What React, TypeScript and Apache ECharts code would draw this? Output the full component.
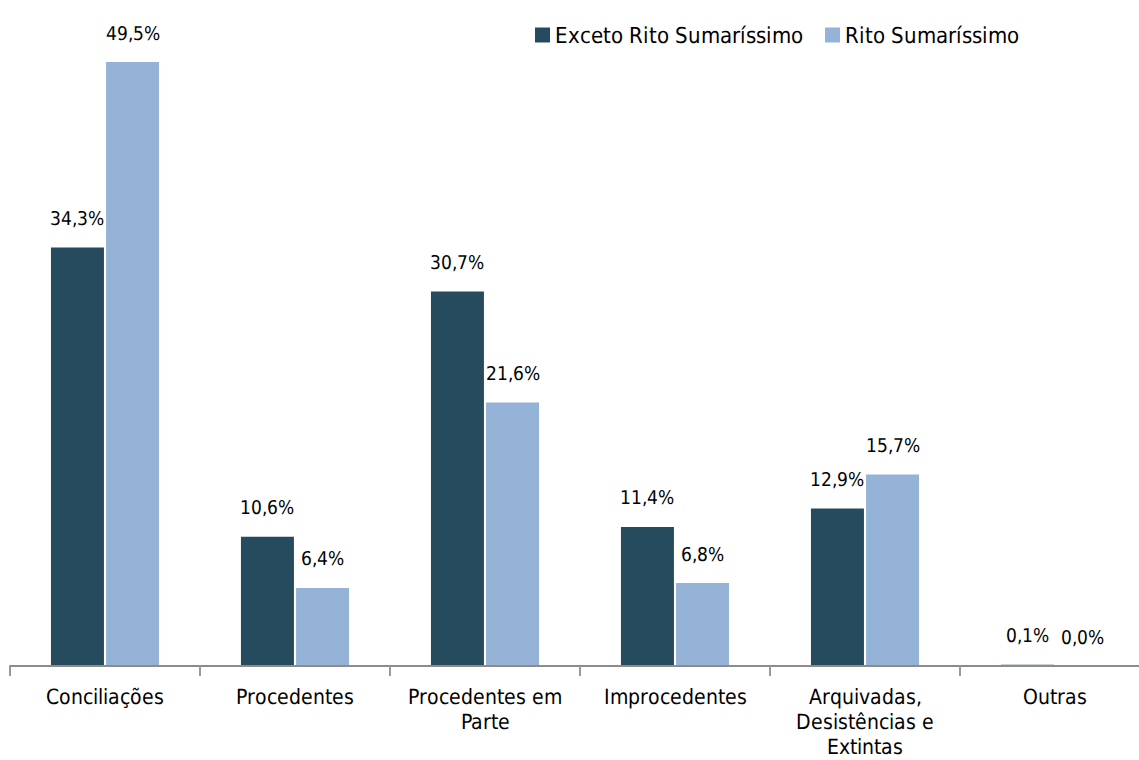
import React, { useEffect, useRef } from "react";
import * as echarts from "echarts";

const categories = [
  "Conciliações",
  "Procedentes",
  "Procedentes em\nParte",
  "Improcedentes",
  "Arquivadas,\nDesistências e\nExtintas",
  "Outras",
];
const excetoRito = [34.3, 10.6, 30.7, 11.4, 12.9, 0.1];
const ritoSumarissimo = [49.5, 6.4, 21.6, 6.8, 15.7, 0.0];
const seriesNames = ["Exceto Rito Sumaríssimo", "Rito Sumaríssimo"];

const FONT = "CondFont, 'Liberation Sans Narrow', 'DejaVu Sans Condensed', Roboto, sans-serif";

const FONT_CSS = `@font-face { font-family: "CondFont"; src: local("DejaVu Sans Condensed"), local("DejaVuSansCondensed"), local("Liberation Sans Narrow"), local("LiberationSansNarrow-Regular"), local("LiberationSansNarrow"); }`;

export default function App() {
  const ref = useRef<HTMLDivElement>(null);
  useEffect(() => {
    if (!ref.current) return;
    const styleEl = document.createElement("style");
    styleEl.textContent = FONT_CSS;
    document.head.appendChild(styleEl);
    let chart: echarts.ECharts | null = null;
    let cancelled = false;
    const build = () => {
      if (cancelled || !ref.current) return;
      chart = echarts.init(ref.current, undefined, { renderer: "svg" });
      const labelCfg = {
        show: true,
        position: "top" as const,
        distance: 20,
        color: "#000",
        fontSize: 19,
        fontFamily: FONT,
        formatter: (p: any) => p.value.toFixed(1).replace(".", ",") + "%",
      };
      chart.setOption({
        animation: false,
        textStyle: { fontFamily: FONT },
        legend: {
          top: 19,
          right: 136,
          itemWidth: 15,
          itemHeight: 15,
          itemGap: 22,
          icon: "rect",
          textStyle: { fontSize: 22, color: "#000", fontFamily: FONT },
          data: seriesNames,
        },
        grid: { left: 10, top: 56, width: 1140, height: 610, containLabel: false },
        xAxis: {
          type: "category",
          data: categories,
          z: 10,
          axisLine: { lineStyle: { color: "#8c8c8c", width: 2 } },
          axisTick: { show: true, length: 10, lineStyle: { color: "#999", width: 2 } },
          axisLabel: {
            color: "#000",
            fontSize: 21,
            fontFamily: FONT,
            lineHeight: 25,
            margin: 18,
            interval: 0,
          },
        },
        yAxis: {
          type: "value",
          min: 0,
          max: 50,
          show: false,
          splitLine: { show: false },
        },
        series: [
          {
            name: seriesNames[0],
            type: "bar",
            data: excetoRito,
            barWidth: 53,
            barGap: "4%",
            itemStyle: { color: "#264A5E" },
            label: labelCfg,
          },
          {
            name: seriesNames[1],
            type: "bar",
            data: ritoSumarissimo,
            barWidth: 53,
            itemStyle: { color: "#95B3D7" },
            label: labelCfg,
          },
        ],
      });
    };
    const fontsApi = (document as any).fonts;
    if (fontsApi && fontsApi.load) {
      fontsApi.load("20px CondFont").then(build, build);
    } else {
      build();
    }
    return () => {
      cancelled = true;
      if (chart) chart.dispose();
      styleEl.remove();
    };
  }, []);
  return (
    <div style={{ position: "absolute", left: 0, top: 0, width: 1139, height: 760, overflow: "hidden" }}>
      <div ref={ref} style={{ width: 1160, height: 760 }} />
    </div>
  );
}
